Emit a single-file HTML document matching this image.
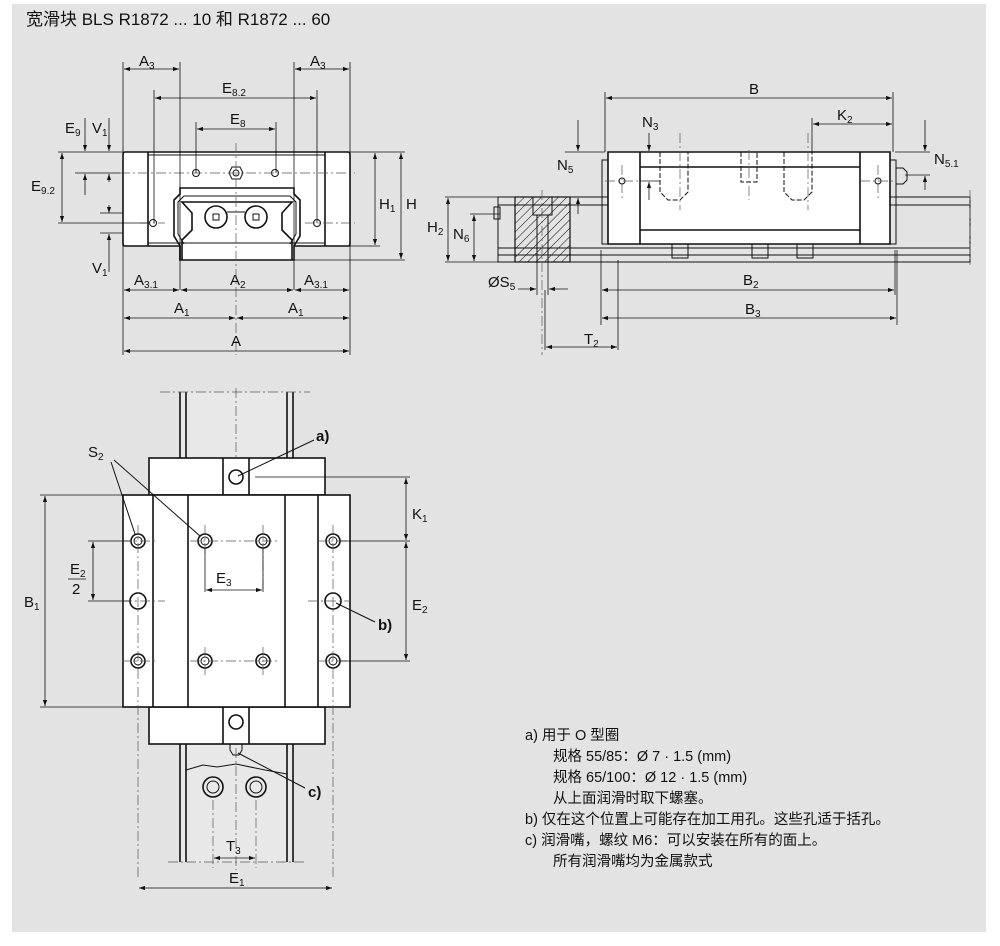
<!DOCTYPE html>
<html><head><meta charset="utf-8"><style>
body{margin:0;background:#fff;width:1000px;height:946px;overflow:hidden}
svg{display:block}
text{font-family:"Liberation Sans","Noto Sans CJK SC",sans-serif;fill:#111}
.l{stroke:#111;stroke-width:1;fill:none}
.t{stroke:#111;stroke-width:1.6;fill:#fff}
.tn{stroke:#111;stroke-width:1.6;fill:none}
.c{stroke:#555;stroke-width:0.7;stroke-dasharray:10 3 2 3;fill:none}
.d{stroke:#111;stroke-width:0.8;fill:none}
.dm{stroke:#111;stroke-width:0.8;fill:none;marker-start:url(#a);marker-end:url(#a)}
.lab{font-size:15px}
.sub{font-size:10px}
.note{font-size:14.5px}
</style></head><body>
<svg width="1000" height="946" viewBox="0 0 1000 946">
<defs>
<marker id="a" viewBox="0 0 10 10" refX="10" refY="5" markerWidth="12" markerHeight="6" orient="auto-start-reverse" markerUnits="userSpaceOnUse"><path d="M0,1.5 L10,5 L0,8.5z" fill="#111"/></marker>
<pattern id="h" width="6" height="6" patternUnits="userSpaceOnUse" patternTransform="rotate(45)"><line x1="0" y1="0" x2="0" y2="6" stroke="#111" stroke-width="1"/></pattern>
</defs>
<rect x="12" y="4" width="974" height="928" fill="#e3e3e3"/>
<text x="26" y="25" style="font-size:17px">宽滑块 BLS R1872 ... 10 和 R1872 ... 60</text>

<!-- FRONT VIEW -->
<g>
<path class="t" d="M125,152 H348 Q350,152 350,155 V244 Q350,246 348,246 H294 V260 H180 V246 H125 Q123,246 123,244 V155 Q123,152 125,152z"/>
<line class="tn" x1="148" y1="152" x2="148" y2="246"/>
<line class="tn" x1="325" y1="152" x2="325" y2="246"/>
<path class="l" d="M148,155 H325 M148,243 H325"/>
<path class="tn" d="M180,260 V246 L174,236 V200 L180,194 V188 H294 V194 L300,200 V236 L294,246"/>
<path class="l" d="M184,244 L178,234 V202 L184,196 H290 L296,202 V234 L290,244"/>
<path class="tn" d="M182,260 V240 L192,230 V213 L182,202 H292 L282,213 V230 L292,240 V260" fill="#fff"/>
<circle class="tn" cx="216" cy="217" r="11"/><circle class="tn" cx="256" cy="217" r="11"/>
<rect class="l" x="213" y="214" width="6" height="6"/><rect class="l" x="253" y="214" width="6" height="6"/>
<line class="l" x1="227" y1="212" x2="245" y2="212"/>
<circle class="l" cx="196" cy="173" r="3.5"/><circle class="l" cx="275" cy="173" r="3.5"/>
<circle class="l" cx="153" cy="223" r="3.5"/><circle class="l" cx="317" cy="223" r="3.5"/>
<path class="l" d="M229,173 L232,167 H240 L243,173 L240,179 H232z"/><circle class="l" cx="236" cy="173" r="3"/>
<line class="c" x1="236" y1="143" x2="236" y2="355"/>
<line class="c" x1="140" y1="223" x2="165" y2="223"/><line class="c" x1="305" y1="223" x2="355" y2="223"/>
<line class="c" x1="120" y1="173" x2="355" y2="173"/>
<path class="d" d="M123,62 V355 M180,62 V290 M294,62 V290 M350,62 V355 M154,90 V223 M317,90 V223 M196,122 V173 M276,122 V173"/>
<path class="dm" d="M124,69 H179"/><path class="dm" d="M295,69 H349"/>
<path class="dm" d="M155,98 H316"/><path class="dm" d="M197,129 H275"/>
<text class="lab" x="139" y="66">A<tspan class="sub" dy="3">3</tspan></text>
<text class="lab" x="310" y="66">A<tspan class="sub" dy="3">3</tspan></text>
<text class="lab" x="222" y="93">E<tspan class="sub" dy="3">8.2</tspan></text>
<text class="lab" x="230" y="124">E<tspan class="sub" dy="3">8</tspan></text>
<path class="dm" d="M124,290 H179"/><path class="dm" d="M181,290 H293"/><path class="dm" d="M295,290 H349"/>
<path class="dm" d="M124,318 H235"/><path class="dm" d="M237,318 H349"/>
<path class="dm" d="M124,351 H349"/>
<text class="lab" x="134" y="285">A<tspan class="sub" dy="3">3.1</tspan></text>
<text class="lab" x="230" y="285">A<tspan class="sub" dy="3">2</tspan></text>
<text class="lab" x="304" y="285">A<tspan class="sub" dy="3">3.1</tspan></text>
<text class="lab" x="174" y="313">A<tspan class="sub" dy="3">1</tspan></text>
<text class="lab" x="288" y="313">A<tspan class="sub" dy="3">1</tspan></text>
<text class="lab" x="231" y="346">A</text>
<path class="d" d="M350,152 H405 M350,246 H380 M294,260 H405 M58,152 H123 M58,223 H150 M75,173 H120 M100,213 H123 M100,233 H123"/>
<path class="dm" d="M375,153 V245"/><path class="dm" d="M401,153 V259"/>
<text class="lab" x="379" y="209">H<tspan class="sub" dy="3">1</tspan></text>
<text class="lab" x="406" y="209">H</text>
<path class="dm" d="M62,153 V222"/>
<text class="lab" x="31" y="191">E<tspan class="sub" dy="3">9.2</tspan></text>
<path class="d" d="M85,118 V151" marker-end="url(#a)"/><path class="d" d="M85,195 V174" marker-end="url(#a)"/>
<text class="lab" x="65" y="133">E<tspan class="sub" dy="3">9</tspan></text>
<path class="d" d="M109,118 V151" marker-end="url(#a)"/><path class="d" d="M109,182 V174" marker-end="url(#a)"/>
<path class="d" d="M109,205 V213" marker-end="url(#a)"/><path class="d" d="M109,272 V234" marker-end="url(#a)"/>
<text class="lab" x="92" y="133">V<tspan class="sub" dy="3">1</tspan></text>
<text class="lab" x="92" y="273">V<tspan class="sub" dy="3">1</tspan></text>
</g>

<!-- SIDE VIEW -->
<g>
<rect x="498" y="197" width="472" height="65" fill="#fff" class="l"/>
<path class="l" d="M498,205 H970 M498,248 H970 M498,255 H970"/>
<line class="c" x1="970" y1="190" x2="970" y2="265"/>
<rect x="515" y="197" width="55" height="65" fill="url(#h)" stroke="#111" stroke-width="1.2"/>
<rect x="533" y="197" width="19" height="18" fill="#fff" class="l"/>
<rect x="537" y="215" width="11" height="47" fill="#fff" class="l"/>
<line class="c" x1="542" y1="190" x2="542" y2="355"/>
<rect x="494" y="207" width="6" height="12" class="l" fill="#fff"/>
<rect x="602" y="160" width="6" height="84" class="l" fill="#fff"/>
<rect x="890" y="160" width="6" height="84" class="l" fill="#fff"/>
<path class="t" d="M608,152 H890 V244 H608z"/>
<path class="tn" d="M640,152 V244 M860,152 V244"/>
<path class="tn" d="M640,167 H860 M640,230 H860"/>
<path class="l" d="M896,168 H903 L907,172 V180 L903,184 H896z"/>
<path class="l" d="M672,244 v14 h16 v-14 M752,244 v14 h16 v-14 M797,244 v14 h16 v-14"/>
<path class="l" d="M660,152 v40 l8,8 h12 l8,-8 v-40 M741,152 v30 h16 v-30 M784,152 v40 l8,8 h12 l8,-8 v-40" stroke-dasharray="5 2"/>
<circle class="l" cx="622" cy="181" r="3"/><circle class="l" cx="878" cy="181" r="3"/>
<path class="c" d="M680,133 V210 M749,150 V200 M808,133 V210 M622,165 V200 M878,165 V200 M605,181 H640 M860,181 H895"/>
<path class="d" d="M605,92 V152 M893,92 V152 M812,118 V152 M893,118 V140"/>
<path class="dm" d="M606,98 H892"/><text class="lab" x="749" y="94">B</text>
<path class="dm" d="M813,124 H892"/><text class="lab" x="837" y="120">K<tspan class="sub" dy="3">2</tspan></text>
<path class="d" d="M649,133 V151" marker-end="url(#a)"/><path class="d" d="M649,200 V182" marker-end="url(#a)"/>
<path class="d" d="M640,181 H660"/>
<text class="lab" x="642" y="127">N<tspan class="sub" dy="3">3</tspan></text>
<path class="d" d="M578,120 V151" marker-end="url(#a)"/><path class="d" d="M578,214 V198" marker-end="url(#a)"/>
<path class="d" d="M565,152 H605 M565,197 H600"/>
<text class="lab" x="557" y="170">N<tspan class="sub" dy="3">5</tspan></text>
<path class="d" d="M925,120 V151" marker-end="url(#a)"/><path class="d" d="M925,190 V176" marker-end="url(#a)"/>
<path class="d" d="M895,152 H930 M905,175 H930"/>
<text class="lab" x="934" y="164">N<tspan class="sub" dy="3">5.1</tspan></text>
<path class="d" d="M445,197 H500 M470,214 H500 M445,262 H500"/>
<path class="dm" d="M448,198 V261"/><text class="lab" x="427" y="232">H<tspan class="sub" dy="3">2</tspan></text>
<path class="dm" d="M474,215 V261"/><text class="lab" x="453" y="239">N<tspan class="sub" dy="3">6</tspan></text>
<path class="d" d="M537,262 V295 M548,262 V295"/>
<path class="d" d="M518,289 H536" marker-end="url(#a)"/><path class="d" d="M568,289 H549" marker-end="url(#a)"/>
<text class="lab" x="488" y="287">ØS<tspan class="sub" dy="3">5</tspan></text>
<path class="d" d="M601,250 V325 M895,250 V295 M897,250 V325 M618,260 V350 M545,290 V350"/>
<path class="dm" d="M602,290 H894"/><text class="lab" x="743" y="285">B<tspan class="sub" dy="3">2</tspan></text>
<path class="dm" d="M602,318 H896"/><text class="lab" x="745" y="314">B<tspan class="sub" dy="3">3</tspan></text>
<path class="dm" d="M546,347 H617"/><text class="lab" x="584" y="344">T<tspan class="sub" dy="3">2</tspan></text>
</g>

<!-- TOP VIEW -->
<g>
<rect x="180" y="392" width="113" height="470" fill="#e8e8e8" stroke="none"/>
<path class="tn" d="M180,392 V862 M293,392 V862 M186,392 V862 M287,392 V862"/>
<path class="c" d="M160,392 H310 M168,862 H305"/>
<line class="c" x1="236" y1="388" x2="236" y2="870"/>
<rect class="t" x="149" y="458" width="176" height="37"/>
<rect class="t" x="149" y="707" width="176" height="37"/>
<path class="tn" d="M223,458 V495 M249,458 V495 M223,707 V744 M249,707 V744"/>
<circle class="tn" cx="236" cy="477" r="7"/><circle class="tn" cx="236" cy="722" r="7"/>
<rect class="t" x="123" y="495" width="227" height="212"/>
<path class="tn" d="M153,495 V707 M188,495 V707 M285,495 V707 M318,495 V707"/>
<path class="l" d="M186,770 L203,765 L217,767 L236,764 L265,770 L287,774"/>
<path class="l" d="M230,744 h12 v6 l-3,5 h-6 l-3,-5z"/>
<g class="tn">
<circle cx="138" cy="541" r="7"/><circle cx="205" cy="541" r="7"/><circle cx="263" cy="541" r="7"/><circle cx="333" cy="541" r="7"/>
<circle cx="138" cy="601" r="8"/><circle cx="333" cy="601" r="8"/>
<circle cx="138" cy="661" r="7"/><circle cx="205" cy="661" r="7"/><circle cx="263" cy="661" r="7"/><circle cx="333" cy="661" r="7"/>
<circle cx="213" cy="787" r="10"/><circle cx="256" cy="787" r="10"/>
</g>
<g class="l"><circle cx="138" cy="541" r="4"/><circle cx="205" cy="541" r="4"/><circle cx="263" cy="541" r="4"/><circle cx="333" cy="541" r="4"/>
<circle cx="138" cy="661" r="4"/><circle cx="205" cy="661" r="4"/><circle cx="263" cy="661" r="4"/><circle cx="333" cy="661" r="4"/>
<circle cx="213" cy="787" r="6"/><circle cx="256" cy="787" r="6"/></g>
<path class="c" d="M122,541 H155 M190,541 H280 M318,541 H350 M122,601 H165 M308,601 H350 M122,661 H155 M190,661 H280 M318,661 H350 M138,525 V880 M333,525 V880 M205,525 V555 M263,525 V590 M205,647 V677 M263,647 V677 M213,800 V868 M256,800 V868"/>
<path class="d" d="M40,495 H123 M40,707 H150 M88,541 H130 M88,601 H130 M255,477 H410 M340,541 H410 M340,661 H410"/>
<path class="dm" d="M45,496 V706"/><text class="lab" x="24" y="607">B<tspan class="sub" dy="3">1</tspan></text>
<path class="dm" d="M93,542 V600"/>
<text class="lab" x="70" y="574">E<tspan class="sub" dy="3">2</tspan></text><line class="d" x1="68" y1="579" x2="86" y2="579"/><text class="lab" x="72" y="594">2</text>
<path class="dm" d="M406,478 V540"/><text class="lab" x="412" y="519">K<tspan class="sub" dy="3">1</tspan></text>
<path class="dm" d="M406,542 V660"/><text class="lab" x="412" y="610">E<tspan class="sub" dy="3">2</tspan></text>
<path class="d" d="M205,548 V592 M263,548 V592"/><path class="dm" d="M206,590 H262"/>
<text class="lab" x="216" y="583">E<tspan class="sub" dy="3">3</tspan></text>
<path class="dm" d="M214,858 H255"/><text class="lab" x="226" y="851">T<tspan class="sub" dy="3">3</tspan></text>
<path class="dm" d="M139,888 H332"/><text class="lab" x="229" y="883">E<tspan class="sub" dy="3">1</tspan></text>
<path class="l" d="M111,462 L135,534 M114,460 L200,536"/>
<text class="lab" x="88" y="457">S<tspan class="sub" dy="3">2</tspan></text>
<path class="l" d="M238,476 L314,440"/><text class="lab" x="316" y="441" style="font-weight:bold">a)</text>
<path class="l" d="M336,603 L375,622"/><text class="lab" x="378" y="630" style="font-weight:bold">b)</text>
<path class="l" d="M238,753 L305,788"/><text class="lab" x="308" y="797" style="font-weight:bold">c)</text>
</g>

<!-- NOTES -->
<g class="note">
<text x="525" y="740">a)  用于 O 型圈</text>
<text x="553" y="761">规格 55/85：Ø 7 · 1.5 (mm)</text>
<text x="553" y="782">规格 65/100：Ø 12 · 1.5 (mm)</text>
<text x="553" y="803">从上面润滑时取下螺塞。</text>
<text x="525" y="824">b)  仅在这个位置上可能存在加工用孔。这些孔适于括孔。</text>
<text x="525" y="845">c)  润滑嘴，螺纹 M6：可以安装在所有的面上。</text>
<text x="553" y="866">所有润滑嘴均为金属款式</text>
</g>
</svg>
</body></html>
